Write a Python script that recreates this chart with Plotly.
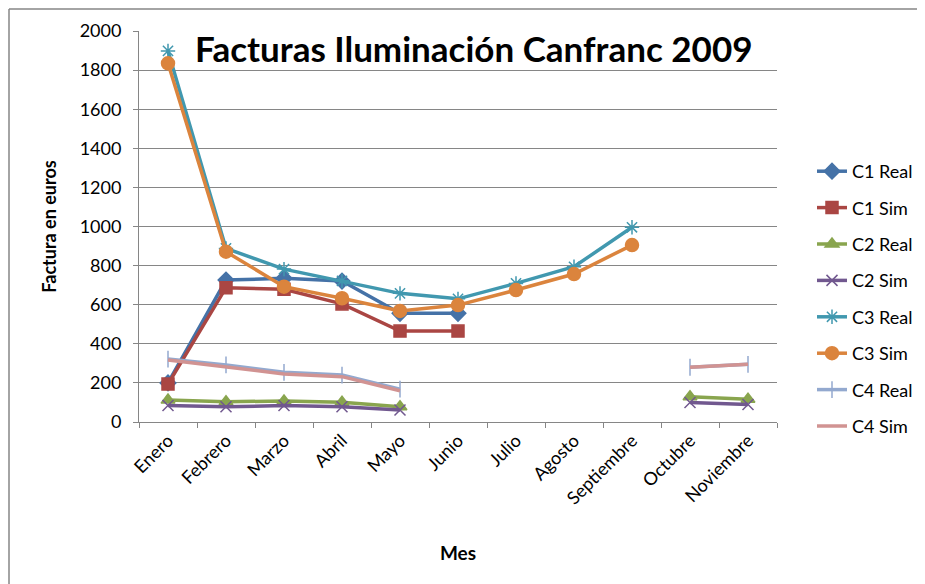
import plotly.graph_objects as go

meses = ["Enero", "Febrero", "Marzo", "Abril", "Mayo", "Junio", "Julio",
         "Agosto", "Septiembre", "Octubre", "Noviembre"]

c1_real = [200, 726, 735, 721, 556, 556, None, None, None, None, None]
c1_sim = [194, 687, 679, 604, 465, 465, None, None, None, None, None]
c2_real = [112, 104, 107, 101, 78, None, None, None, None, 129, 116]
c2_sim = [84, 78, 84, 78, 61, None, None, None, None, 100, 90]
c3_real = [1898, 888, 782, 722, 658, 630, 709, 794, 996, None, None]
c3_sim = [1835, 871, 692, 633, 568, 598, 675, 757, 905, None, None]
c4_real = [322, 292, 254, 240, 168, None, None, None, None, 280, 295]
c4_sim = [317, 283, 246, 232, 160, None, None, None, None, 280, 295]

series = [
    ("C1 Real", c1_real, "#4572A7", "diamond", 12),
    ("C1 Sim", c1_sim, "#AA4643", "square", 12),
    ("C2 Real", c2_real, "#89A54E", "triangle-up", 12),
    ("C2 Sim", c2_sim, "#71588F", "x-thin-open", 11),
    ("C3 Real", c3_real, "#4198AF", "asterisk-open", 12),
    ("C3 Sim", c3_sim, "#DB843D", "circle", 13),
    ("C4 Real", c4_real, "#93A9CF", "line-ns-open", 12),
    ("C4 Sim", c4_sim, "#D19392", None, 0),
]

FONT = "Lato, 'Open Sans', sans-serif"

fig = go.Figure()
for i, (name, vals, color, sym, size) in enumerate(series):
    if sym is None:
        mode = "lines"
        marker = dict()
    else:
        mode = "lines+markers"
        marker = dict(symbol=sym, size=size, color=color,
                      line=dict(color=color, width=1.5))
    fig.add_trace(go.Scatter(
        x=meses, y=vals, name=name, mode=mode,
        line=dict(color=color, width=3.5),
        marker=marker, legendgroup=name,
    ))

# the page body adds an 8px offset: figure origin sits at screen (8, 8)
OFF = 8
W, H = 925, 584
L, T = 139 - OFF, 31 - OFF
pw, ph = 638, 391
R = W - L - pw
B = H - T - ph

def px(x):
    """screen x -> paper fraction"""
    return (x - OFF - L) / pw

def py(y):
    """screen y -> paper fraction"""
    return (T + ph - (y - OFF)) / ph

border = dict(color="#868686", width=1.5)

fig.update_layout(
    width=W, height=H,
    margin=dict(l=L, r=R, t=T, b=B),
    paper_bgcolor="white", plot_bgcolor="white",
    font=dict(family=FONT, color="#000000", size=17),
    showlegend=True,
    legend=dict(x=px(812), y=py(153), xanchor="left", yanchor="top",
                font=dict(size=18, family=FONT, color="#000000"),
                tracegroupgap=10, bgcolor="rgba(0,0,0,0)"),
    xaxis=dict(
        type="category", range=[-0.5, 10.5],
        showgrid=False, showline=True, linecolor="#868686", linewidth=1,
        ticks="outside", tickson="boundaries", ticklen=5, tickcolor="#868686",
        tickangle=-45, tickfont=dict(size=18, family=FONT),
        title=dict(text="<b>Mes</b>", font=dict(size=19, family=FONT), standoff=39),
    ),
    yaxis=dict(
        range=[0, 2000], dtick=200,
        showgrid=True, gridcolor="#868686", gridwidth=1,
        showline=True, linecolor="#868686", linewidth=1,
        ticks="outside", ticklen=5, tickcolor="#868686",
        ticklabelstandoff=8,
        tickfont=dict(size=18, family=FONT),
        zeroline=False,
        title=dict(text="<b>Factura en euros</b>", font=dict(size=18, family=FONT), standoff=18),
    ),
    annotations=[dict(
        text="<b>Facturas Iluminación Canfranc 2009</b>",
        x=px(473), y=py(48), xref="paper", yref="paper",
        xanchor="center", yanchor="middle", showarrow=False,
        font=dict(size=35, family=FONT, color="#000000"),
    )],
    shapes=[
        dict(type="line", xref="paper", yref="paper",
             x0=px(9), y0=py(9), x1=px(W + OFF), y1=py(9), line=border, layer="below"),
        dict(type="line", xref="paper", yref="paper",
             x0=px(9), y0=py(9), x1=px(9), y1=py(H + OFF), line=border, layer="below"),
    ],
)

fig.write_html("out.html")
